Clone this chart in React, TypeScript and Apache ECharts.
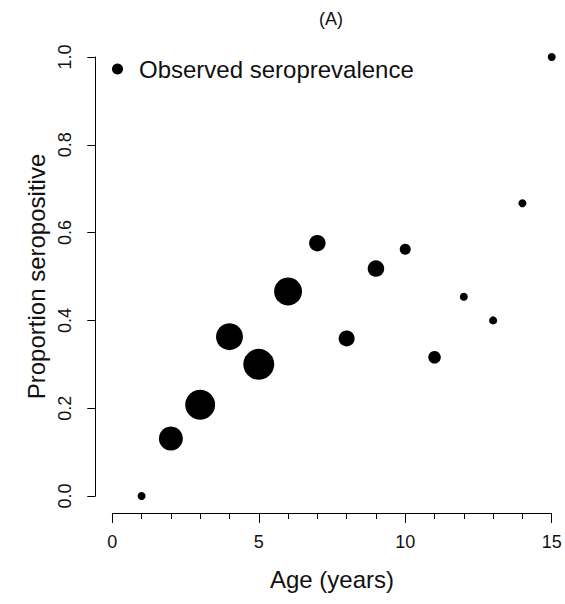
import React, { useEffect, useRef } from "react";
import * as echarts from "echarts";

const ages = [1, 2, 3, 4, 5, 6, 7, 8, 9, 10, 11, 12, 13, 14, 15];
const proportions = [0.0, 0.131, 0.208, 0.363, 0.3, 0.466, 0.576, 0.359, 0.518, 0.562, 0.316, 0.454, 0.4, 0.667, 1.0];
const markerSizes = [8, 24, 30, 27, 31, 28, 16.5, 16, 16.5, 11, 12.5, 8, 8, 8, 8];
const xTicks = [0, 5, 10, 15];
const yTicks = [0, 0.2, 0.4, 0.6, 0.8, 1.0];

const FONT = "'Liberation Sans', Arial, sans-serif";

export default function App() {
  const ref = useRef<HTMLDivElement>(null);
  useEffect(() => {
    if (!ref.current) return;
    const chart = echarts.init(ref.current, null, { renderer: "svg" });
    const data = ages.map((a, i) => [a, proportions[i], markerSizes[i]]);
    chart.setOption({
      animation: false,
      backgroundColor: "#ffffff",
      textStyle: { fontFamily: FONT },
      title: {
        text: "(A)",
        left: 331,
        top: 10,
        padding: 0,
        textAlign: "center",
        textStyle: { fontSize: 18, fontWeight: "normal", color: "#111", fontFamily: FONT },
      },
      legend: {
        left: 112,
        top: 57,
        padding: 0,
        icon: "circle",
        itemWidth: 11,
        itemHeight: 11,
        itemGap: 0,
        textStyle: { fontSize: 24, color: "#111", fontFamily: FONT, padding: [0, 0, 0, 11] },
        data: ["Observed seroprevalence"],
      },
      grid: { left: 112.3, right: 13.3, top: 57, bottom: 108, containLabel: false },
      xAxis: {
        type: "value",
        min: 0,
        max: 15,
        interval: 5,
        offset: 17,
        name: "Age (years)",
        nameLocation: "middle",
        nameGap: 54,
        nameTextStyle: { fontSize: 24, color: "#111", fontFamily: FONT },
        axisLine: { show: true, onZero: false, lineStyle: { color: "#000", width: 1 } },
        axisTick: { show: true, length: 10, lineStyle: { color: "#000" } },
        minorTick: { show: true, splitNumber: 5, length: 6, lineStyle: { color: "#000" } },
        axisLabel: {
          fontSize: 18,
          color: "#111",
          margin: 20,
          fontFamily: FONT,
          customValues: xTicks,
        },
        splitLine: { show: false },
      },
      yAxis: {
        type: "value",
        min: 0,
        max: 1,
        interval: 0.2,
        offset: 17,
        name: "Proportion seropositive",
        nameLocation: "middle",
        nameRotate: 90,
        nameGap: 46,
        nameTextStyle: { fontSize: 24, color: "#111", fontFamily: FONT },
        axisLine: { show: true, onZero: false, lineStyle: { color: "#000", width: 1 } },
        axisTick: { show: true, length: 8, lineStyle: { color: "#000" } },
        axisLabel: {
          fontSize: 18,
          color: "#111",
          rotate: 90,
          margin: 21,
          fontFamily: FONT,
          formatter: (v: number) => v.toFixed(1),
          customValues: yTicks,
        },
        splitLine: { show: false },
      },
      series: [
        {
          name: "Observed seroprevalence",
          type: "scatter",
          data,
          symbol: "circle",
          symbolSize: (v: number[]) => v[2],
          itemStyle: { color: "#000", opacity: 1 },
          clip: false,
        },
      ],
      graphic: [
        {
          type: "text",
          left: 13,
          top: 600,
          style: {
            text: "Figure 2",
            fontSize: 24,
            fontWeight: "bold",
            fontFamily: "'Liberation Serif', 'Times New Roman', serif",
            fill: "#000",
          },
        },
      ],
    });
    return () => chart.dispose();
  }, []);
  return (
    <div
      ref={ref}
      style={{ position: "fixed", left: 0, top: 0, width: 565, height: 604, background: "#fff" }}
    />
  );
}
